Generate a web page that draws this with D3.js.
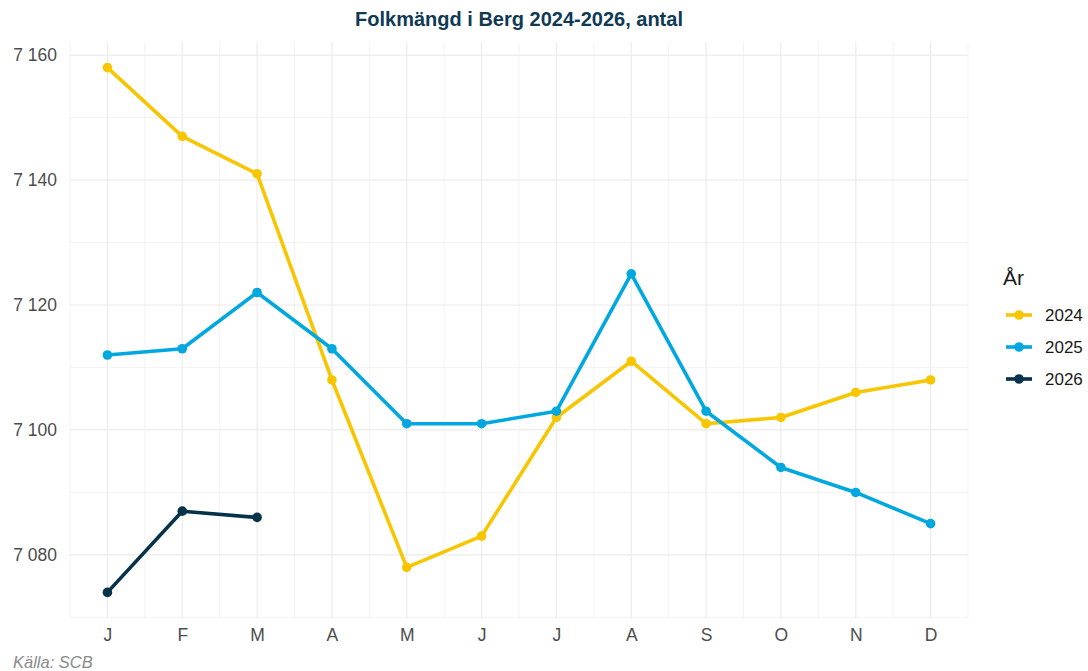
<!DOCTYPE html>
<html>
<head>
<meta charset="utf-8">
<script src="https://cdn.jsdelivr.net/npm/d3@7"></script>
<style>
  body { margin: 0; background: #fff; }
  svg { font-family: "Liberation Sans", Arial, sans-serif; }
</style>
</head>
<body>
<div id="chart"></div>
<script>
// Data
const months = ["J", "F", "M", "A", "M", "J", "J", "A", "S", "O", "N", "D"];
const years = ["2024", "2025", "2026"];
const values2024 = [7158, 7147, 7141, 7108, 7078, 7083, 7102, 7111, 7101, 7102, 7106, 7108];
const values2025 = [7112, 7113, 7122, 7113, 7101, 7101, 7103, 7125, 7103, 7094, 7090, 7085];
const values2026 = [7074, 7087, 7086];
const yTicks = [7080, 7100, 7120, 7140, 7160];
const colors = ["#F7C600", "#00A8DF", "#063349"];

const series = [values2024, values2025, values2026].map((vals, i) => ({
  year: years[i],
  color: colors[i],
  points: vals.map((v, j) => ({ month: j + 1, value: v }))
}));

const W = 1088, H = 671;
const margin = { top: 42, right: 120, bottom: 53, left: 70 };

const svg = d3.select("#chart").append("svg")
  .attr("width", W)
  .attr("height", H);

const x = d3.scaleLinear().domain([0.5, 12.5]).range([margin.left, W - margin.right]);
const y = d3.scaleLinear().domain([7069.9, 7162.1]).range([H - margin.bottom, margin.top]);

const grid = svg.append("g");

// minor grid lines (halfway between months / ticks)
grid.selectAll(".vminor")
  .data(d3.range(0.5, 13, 1))
  .join("line")
  .attr("x1", d => x(d)).attr("x2", d => x(d))
  .attr("y1", y.range()[1]).attr("y2", y.range()[0])
  .attr("stroke", "#ebebeb").attr("stroke-width", 0.6);

grid.selectAll(".hminor")
  .data([7070, 7090, 7110, 7130, 7150])
  .join("line")
  .attr("x1", x.range()[0]).attr("x2", x.range()[1])
  .attr("y1", d => y(d)).attr("y2", d => y(d))
  .attr("stroke", "#ebebeb").attr("stroke-width", 0.6);

// major grid lines
grid.selectAll(".vmajor")
  .data(d3.range(1, 13))
  .join("line")
  .attr("x1", d => x(d)).attr("x2", d => x(d))
  .attr("y1", y.range()[1]).attr("y2", y.range()[0])
  .attr("stroke", "#ebebeb").attr("stroke-width", 1.2);

grid.selectAll(".hmajor")
  .data(yTicks)
  .join("line")
  .attr("x1", x.range()[0]).attr("x2", x.range()[1])
  .attr("y1", d => y(d)).attr("y2", d => y(d))
  .attr("stroke", "#ebebeb").attr("stroke-width", 1.2);

// axes (labels only)
const fmt = d => d3.format(",")(d).replace(",", " ");

const yAxis = svg.append("g")
  .attr("transform", `translate(${margin.left - 3},0)`)
  .call(d3.axisLeft(y).tickValues(yTicks).tickFormat(fmt).tickSize(0).tickPadding(10));
yAxis.select(".domain").remove();
yAxis.selectAll("text").attr("fill", "#4d4d4d").style("font-size", "17.5px");

const xAxis = svg.append("g")
  .attr("transform", `translate(0,${H - margin.bottom})`)
  .call(d3.axisBottom(x).tickValues(d3.range(1, 13)).tickFormat(d => months[d - 1]).tickSize(0).tickPadding(11));
xAxis.select(".domain").remove();
xAxis.selectAll("text").attr("fill", "#4d4d4d").style("font-size", "17.5px");

// lines and points
const line = d3.line().x(d => x(d.month)).y(d => y(d.value));

const sg = svg.selectAll(".series")
  .data(series)
  .join("g");

sg.append("path")
  .attr("d", d => line(d.points))
  .attr("fill", "none")
  .attr("stroke", d => d.color)
  .attr("stroke-width", 3.6)
  .attr("stroke-linejoin", "round");

sg.selectAll("circle")
  .data(d => d.points.map(p => ({ ...p, color: d.color })))
  .join("circle")
  .attr("cx", d => x(d.month))
  .attr("cy", d => y(d.value))
  .attr("r", 4.8)
  .attr("fill", d => d.color);

// title
svg.append("text")
  .attr("x", (x.range()[0] + x.range()[1]) / 2)
  .attr("y", 26)
  .attr("text-anchor", "middle")
  .attr("fill", "#0f3a56")
  .style("font-size", "20px")
  .style("font-weight", "bold")
  .text("Folkmängd i Berg 2024-2026, antal");

// legend
const legend = svg.append("g").attr("transform", "translate(1003,0)");
legend.append("text")
  .attr("x", 0).attr("y", 285)
  .attr("fill", "#1a1a1a")
  .style("font-size", "21px")
  .text("År");

const items = legend.selectAll(".item")
  .data(series)
  .join("g")
  .attr("transform", (d, i) => `translate(0,${315 + i * 32})`);

items.append("line")
  .attr("x1", 3).attr("x2", 29)
  .attr("stroke", d => d.color).attr("stroke-width", 3.6);
items.append("circle")
  .attr("cx", 16).attr("r", 4.8)
  .attr("fill", d => d.color);
items.append("text")
  .attr("x", 42).attr("y", 6.3)
  .attr("fill", "#1a1a1a")
  .style("font-size", "17px")
  .text(d => d.year);

// caption
svg.append("text")
  .attr("x", 13).attr("y", 668)
  .attr("fill", "#8a8a8a")
  .style("font-size", "16.5px")
  .style("font-style", "italic")
  .text("Källa: SCB");
</script>
</body>
</html>
